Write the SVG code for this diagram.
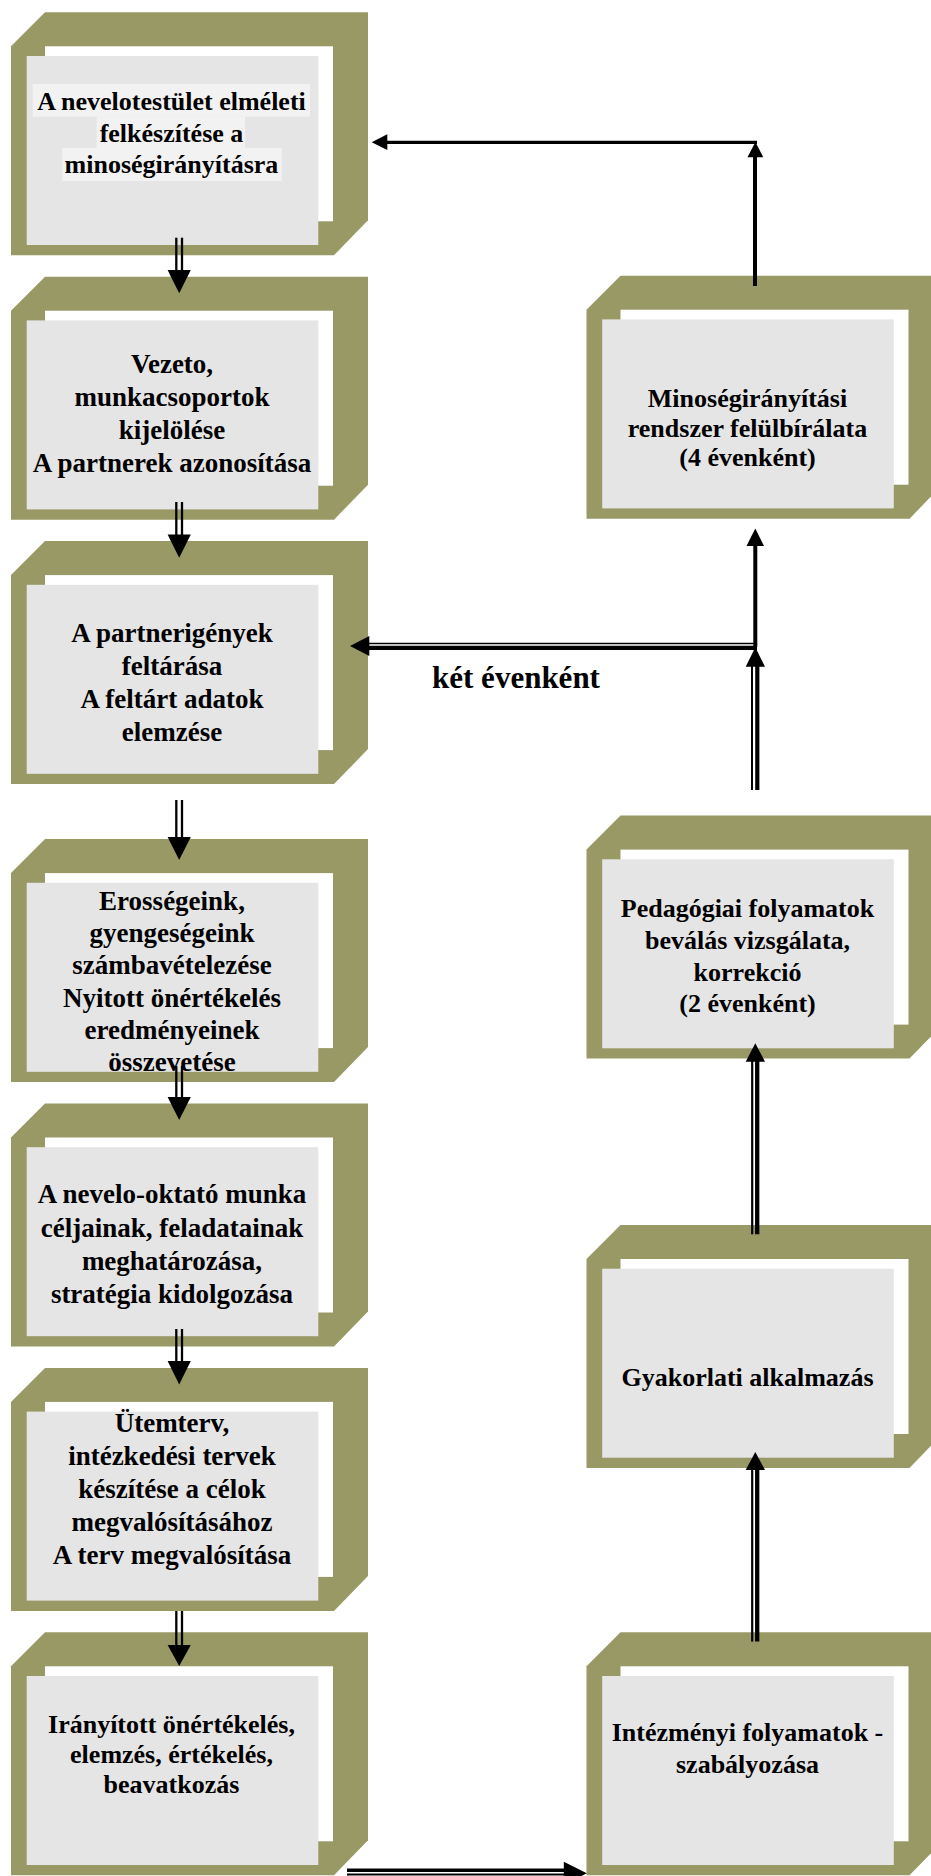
<svg xmlns="http://www.w3.org/2000/svg" xmlns:xlink="http://www.w3.org/1999/xlink" width="931" height="1876" viewBox="0 0 931 1876">
  <style>
    .olive { fill: #999966; }
    .inner { fill: #ffffff; }
    .panel { fill: #e5e5e5; }
    .hl { fill: #f2f2f2; }
    .t { font-family: "Liberation Serif", "Times New Roman", serif; font-weight: bold; font-size: 26px; text-anchor: middle; fill: #000; }
    .t27 { font-size: 27px; }
    .lbl { font-family: "Liberation Serif", "Times New Roman", serif; font-weight: bold; font-size: 31px; text-anchor: middle; fill: #000; }
    .ln { stroke: #000; fill: none; }
    .head { fill: #000; }
  </style>
  <defs>
    <!-- bevelled olive frame with white backing and grey panel -->
    <g id="frame">
      <polygon class="olive" points="0,34 34,0 357,0 357,208 323,243 0,243"/>
      <rect class="inner" x="34" y="34" width="288" height="175"/>
      <rect class="panel" x="15.7" y="43.7" width="291.6" height="189"/>
    </g>
  </defs>
  <rect width="931" height="1876" fill="#ffffff"/>

  <!-- left column -->
  <g id="node-l1">
    <use xlink:href="#frame" x="11" y="12.3"/>
    <rect class="hl" x="32.7" y="84" width="277.3" height="32.7"/>
    <rect class="hl" x="96.7" y="116.7" width="148.3" height="31.3"/>
    <rect class="hl" x="62.3" y="148" width="219.4" height="33"/>
    <text class="t" x="171.5" y="110">A nevelotestület elméleti</text>
    <text class="t" x="171.5" y="141.7">felkészítése a</text>
    <text class="t" x="171.5" y="173.3">minoségirányításra</text>
  </g>
  <g id="node-l2">
    <use xlink:href="#frame" x="11" y="276.7"/>
    <text class="t t27" x="172" y="373">Vezeto,</text>
    <text class="t t27" x="172" y="406">munkacsoportok</text>
    <text class="t t27" x="172" y="439">kijelölése</text>
    <text class="t t27" x="172" y="472">A partnerek azonosítása</text>
  </g>
  <g id="node-l3">
    <use xlink:href="#frame" x="11" y="541.1"/>
    <text class="t t27" x="172" y="642">A partnerigények</text>
    <text class="t t27" x="172" y="675">feltárása</text>
    <text class="t t27" x="172" y="708">A feltárt adatok</text>
    <text class="t t27" x="172" y="741">elemzése</text>
  </g>
  <g id="node-l4">
    <use xlink:href="#frame" x="11" y="839.1"/>
    <text class="t t27" x="172" y="910">Erosségeink,</text>
    <text class="t t27" x="172" y="942">gyengeségeink</text>
    <text class="t t27" x="172" y="974">számbavételezése</text>
    <text class="t t27" x="172" y="1007">Nyitott önértékelés</text>
    <text class="t t27" x="172" y="1039">eredményeinek</text>
    <text class="t t27" x="172" y="1071">összevetése</text>
  </g>
  <g id="node-l5">
    <use xlink:href="#frame" x="11" y="1103.5"/>
    <text class="t t27" x="172" y="1203">A nevelo-oktató munka</text>
    <text class="t t27" x="172" y="1237">céljainak, feladatainak</text>
    <text class="t t27" x="172" y="1270">meghatározása,</text>
    <text class="t t27" x="172" y="1303">stratégia kidolgozása</text>
  </g>
  <g id="node-l6">
    <use xlink:href="#frame" x="11" y="1367.9"/>
    <text class="t t27" x="172" y="1432">Ütemterv,</text>
    <text class="t t27" x="172" y="1465">intézkedési tervek</text>
    <text class="t t27" x="172" y="1498">készítése a célok</text>
    <text class="t t27" x="172" y="1531">megvalósításához</text>
    <text class="t t27" x="172" y="1564">A terv megvalósítása</text>
  </g>
  <g id="node-l7">
    <use xlink:href="#frame" x="11" y="1632.3"/>
    <text class="t" x="171.5" y="1732.7">Irányított önértékelés,</text>
    <text class="t" x="171.5" y="1763.3">elemzés, értékelés,</text>
    <text class="t" x="171.5" y="1793.3">beavatkozás</text>
  </g>

  <!-- right column -->
  <g id="node-r1">
    <use xlink:href="#frame" x="586.5" y="275.7"/>
    <text class="t" x="747.5" y="406.7">Minoségirányítási</text>
    <text class="t" x="747.5" y="436.7">rendszer felülbírálata</text>
    <text class="t" x="747.5" y="466">(4 évenként)</text>
  </g>
  <g id="node-r2">
    <use xlink:href="#frame" x="586.5" y="815.6"/>
    <text class="t" x="747.5" y="917">Pedagógiai folyamatok</text>
    <text class="t" x="747.5" y="949">beválás vizsgálata,</text>
    <text class="t" x="747.5" y="981">korrekció</text>
    <text class="t" x="747.5" y="1012">(2 évenként)</text>
  </g>
  <g id="node-r3">
    <use xlink:href="#frame" x="586.5" y="1225"/>
    <text class="t" x="747.5" y="1386">Gyakorlati alkalmazás</text>
  </g>
  <g id="node-r4">
    <use xlink:href="#frame" x="586.5" y="1632.3"/>
    <text class="t" x="747.5" y="1741">Intézményi folyamatok -</text>
    <text class="t" x="747.5" y="1773">szabályozása</text>
  </g>

  <text id="label-two-years" class="lbl" x="516" y="688.3">két évenként</text>

  <!-- connectors -->
  <g id="connectors">
    <!-- downward double arrows on the left -->
    <g stroke="#000" stroke-width="2.3">
      <line x1="176.3" y1="237.7" x2="176.3" y2="271"/>
      <line x1="182" y1="237.7" x2="182" y2="271"/>
      <line x1="176.3" y1="502" x2="176.3" y2="535"/>
      <line x1="182" y1="502" x2="182" y2="535"/>
      <line x1="176.3" y1="800" x2="176.3" y2="838"/>
      <line x1="182" y1="800" x2="182" y2="838"/>
      <line x1="176.3" y1="1066" x2="176.3" y2="1098"/>
      <line x1="182" y1="1066" x2="182" y2="1098"/>
      <line x1="176.3" y1="1329" x2="176.3" y2="1362"/>
      <line x1="182" y1="1329" x2="182" y2="1362"/>
      <line x1="176.3" y1="1611" x2="176.3" y2="1646"/>
      <line x1="182" y1="1611" x2="182" y2="1646"/>
    </g>
    <polygon class="head" points="167.6,270 190.8,270 179.2,293.3"/>
    <polygon class="head" points="167.6,534.4 190.8,534.4 179.2,557.7"/>
    <polygon class="head" points="167.6,837 190.8,837 179.2,860"/>
    <polygon class="head" points="167.6,1097 190.8,1097 179.2,1120"/>
    <polygon class="head" points="167.6,1361 190.8,1361 179.2,1384.5"/>
    <polygon class="head" points="167.6,1645 190.8,1645 179.2,1666"/>

    <!-- review loop back to the top -->
    <line class="ln" x1="755" y1="286" x2="755" y2="156" stroke-width="4"/>
    <polygon class="head" points="747.5,157.3 763.3,157.3 755.4,142"/>
    <line class="ln" x1="757" y1="142.3" x2="386" y2="142.3" stroke-width="3.3"/>
    <polygon class="head" points="387.3,134.3 387.3,150 371.7,142.2"/>

    <!-- two-yearly branch -->
    <line class="ln" x1="755.3" y1="647" x2="755.3" y2="545" stroke-width="4"/>
    <polygon class="head" points="746.5,546 764,546 755.3,528.5"/>
    <line class="ln" x1="755" y1="643.5" x2="368" y2="643.5" stroke-width="1.6"/>
    <line class="ln" x1="757" y1="647.8" x2="368" y2="647.8" stroke-width="4.3"/>
    <polygon class="head" points="369.3,636 369.3,656 350,646"/>
    <line class="ln" x1="752" y1="790" x2="752" y2="665" stroke-width="2"/>
    <line class="ln" x1="757.3" y1="790" x2="757.3" y2="665" stroke-width="4.2"/>
    <polygon class="head" points="745.7,666.7 765,666.7 755.3,647.3"/>

    <!-- right column upward double arrows -->
    <line class="ln" x1="752.2" y1="1234.3" x2="752.2" y2="1060" stroke-width="2.2"/>
    <line class="ln" x1="757.2" y1="1234.3" x2="757.2" y2="1060" stroke-width="4.3"/>
    <polygon class="head" points="745.7,1061.7 765,1061.7 755.3,1043.3"/>
    <line class="ln" x1="752.2" y1="1641.6" x2="752.2" y2="1468" stroke-width="2.2"/>
    <line class="ln" x1="757.2" y1="1641.6" x2="757.2" y2="1468" stroke-width="4.3"/>
    <polygon class="head" points="745.7,1470 765,1470 755.3,1452"/>

    <!-- bottom link to the right column -->
    <line class="ln" x1="347" y1="1870.2" x2="565" y2="1870.2" stroke-width="3.6"/>
    <line class="ln" x1="347" y1="1874.6" x2="565" y2="1874.6" stroke-width="2"/>
    <polygon class="head" points="563.8,1861.7 563.8,1885 586.8,1873.3"/>
  </g>
</svg>
